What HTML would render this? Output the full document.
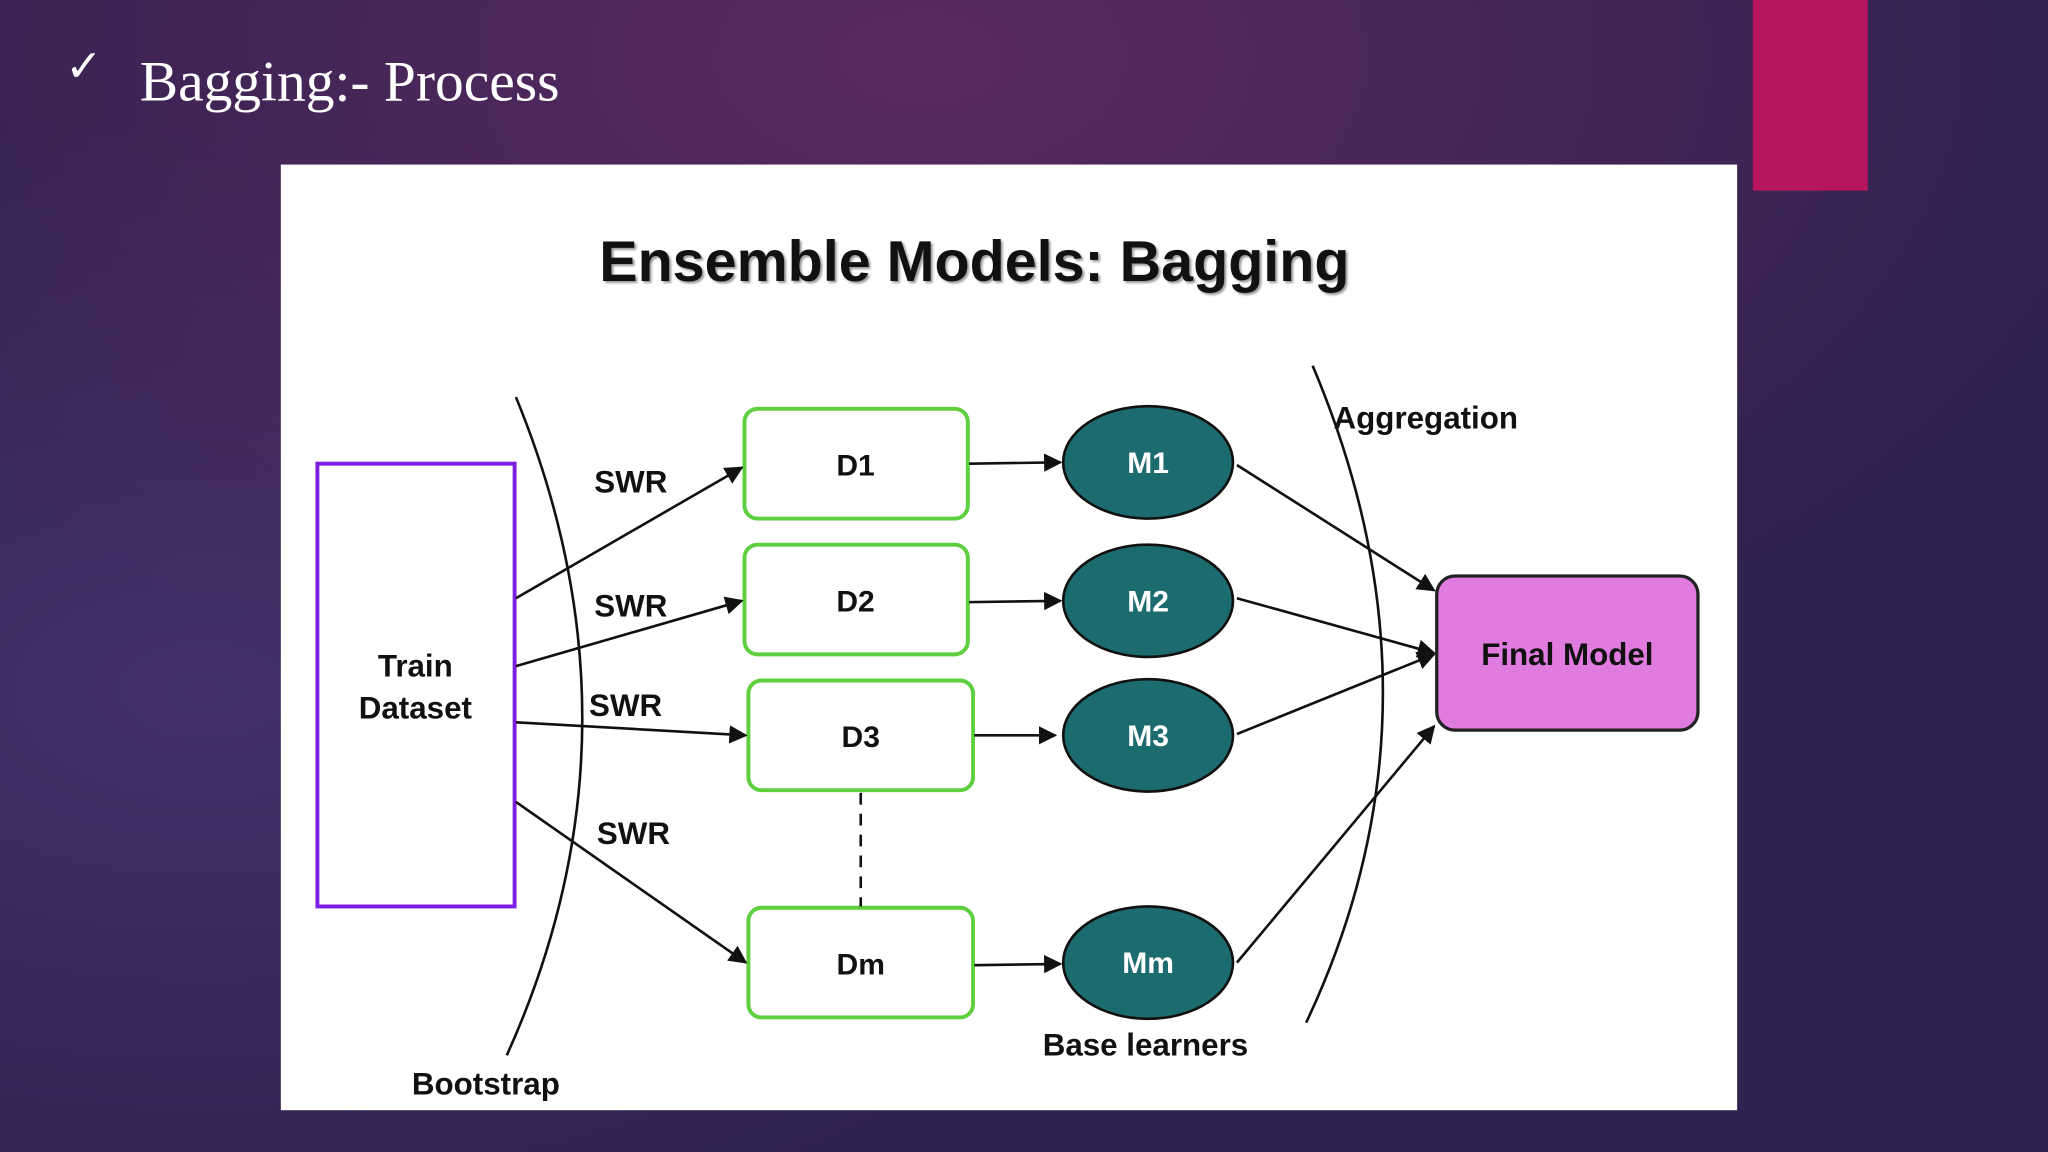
<!DOCTYPE html>
<html><head><style>
html,body{margin:0;padding:0;width:2048px;height:1152px;overflow:hidden}
body{background:#3a2458}
</style></head><body>
<svg width="2048" height="1152" viewBox="0 0 1568 882" xmlns="http://www.w3.org/2000/svg">
<defs>
<radialGradient id="g1" cx="0.45" cy="0.05" r="0.6"><stop offset="0" stop-color="#5a2a60"/><stop offset="1" stop-color="#5a2a60" stop-opacity="0"/></radialGradient>
<radialGradient id="g2" cx="0.1" cy="0.6" r="0.5"><stop offset="0" stop-color="#45306a"/><stop offset="1" stop-color="#45306a" stop-opacity="0"/></radialGradient>
<marker id="a" viewBox="0 0 10 10" refX="9" refY="5" markerWidth="7" markerHeight="7" orient="auto"><path d="M0,0L10,5L0,10z" fill="#111"/></marker>
</defs>
<rect width="1568" height="882" fill="#2f2150"/>
<rect width="1568" height="882" fill="url(#g2)"/>
<rect width="1568" height="882" fill="url(#g1)"/>
<rect x="1342" y="0" width="88" height="146" fill="#b8155f"/>
<text x="50" y="62" font-family="DejaVu Sans" font-size="34" fill="#fff">✓</text>
<text x="107" y="77" font-family="Liberation Serif" font-size="44" fill="#fff">Bagging:- Process</text>
<rect x="215" y="126" width="1115" height="724" fill="#fff"/>
<text x="746" y="215" text-anchor="middle" font-family="Liberation Sans" font-weight="bold" font-size="44" fill="#111" style="text-shadow:2px 2px 2px #999">Ensemble Models: Bagging</text>
<g font-family="Liberation Sans" font-weight="bold" fill="#111">
<rect x="243" y="355" width="151" height="339" fill="none" stroke="#7b1fe0" stroke-width="3"/>
<text x="318" y="518" text-anchor="middle" font-size="24">Train</text>
<text x="318" y="550" text-anchor="middle" font-size="24">Dataset</text>
<g fill="none" stroke="#5ecf3f" stroke-width="3">
<rect x="570" y="313" width="171" height="84" rx="10"/>
<rect x="570" y="417" width="171" height="84" rx="10"/>
<rect x="573" y="521" width="172" height="84" rx="10"/>
<rect x="573" y="695" width="172" height="84" rx="10"/>
</g>
<text x="655" y="364" text-anchor="middle" font-size="23">D1</text>
<text x="655" y="468" text-anchor="middle" font-size="23">D2</text>
<text x="659" y="572" text-anchor="middle" font-size="23">D3</text>
<text x="659" y="746" text-anchor="middle" font-size="23">Dm</text>
<g fill="#1c6b6e" stroke="#111" stroke-width="2">
<ellipse cx="879" cy="354" rx="65" ry="43"/>
<ellipse cx="879" cy="460" rx="65" ry="43"/>
<ellipse cx="879" cy="563" rx="65" ry="43"/>
<ellipse cx="879" cy="737" rx="65" ry="43"/>
</g>
<g fill="#fff" font-size="23" text-anchor="middle">
<text x="879" y="362">M1</text><text x="879" y="468">M2</text><text x="879" y="571">M3</text><text x="879" y="745">Mm</text>
</g>
<rect x="1100" y="441" width="200" height="118" rx="14" fill="#e07be0" stroke="#222" stroke-width="2.5"/>
<text x="1200" y="509" text-anchor="middle" font-size="24">Final Model</text>
<g fill="none" stroke="#111" stroke-width="2">
<path d="M395,304 Q500,560 388,808"/>
<path d="M1005,280 Q1115,540 1000,783"/>
<line x1="659" y1="607" x2="659" y2="694" stroke-dasharray="9,7"/>
<g marker-end="url(#a)">
<line x1="395" y1="458" x2="568" y2="358"/>
<line x1="395" y1="510" x2="568" y2="460"/>
<line x1="395" y1="553" x2="571" y2="563"/>
<line x1="395" y1="614" x2="571" y2="737"/>
<line x1="742" y1="355" x2="812" y2="354"/>
<line x1="742" y1="461" x2="812" y2="460"/>
<line x1="746" y1="563" x2="808" y2="563"/>
<line x1="746" y1="739" x2="812" y2="738"/>
<line x1="947" y1="356" x2="1098" y2="452"/>
<line x1="947" y1="458" x2="1098" y2="500"/>
<line x1="947" y1="562" x2="1098" y2="501"/>
<line x1="947" y1="737" x2="1098" y2="556"/>
</g>
</g>
<g font-size="24">
<text x="455" y="377">SWR</text><text x="455" y="472">SWR</text><text x="451" y="548">SWR</text><text x="457" y="646">SWR</text>
<text x="1021" y="328">Aggregation</text>
<text x="877" y="808" text-anchor="middle">Base learners</text>
<text x="372" y="838" text-anchor="middle">Bootstrap</text>
</g>
</g>
</svg>
</body></html>
